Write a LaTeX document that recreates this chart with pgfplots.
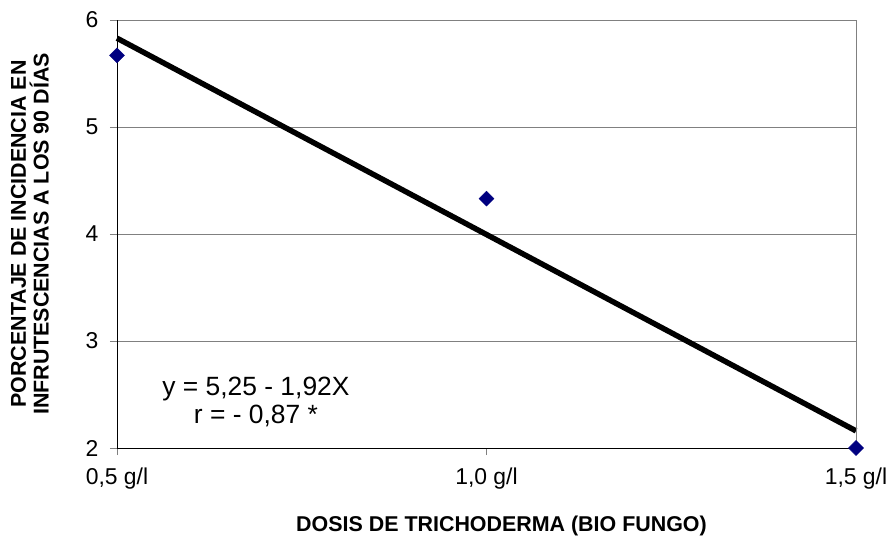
\documentclass[border=0pt]{standalone}
\usepackage{pgfplots}
\pgfplotsset{compat=1.18}
\usepackage{fontspec}
\setmainfont{Liberation Sans}
\definecolor{navyp}{RGB}{0,0,128}
\definecolor{gridg}{RGB}{128,128,128}
\begin{document}
\begin{tikzpicture}
\begin{axis}[
  scale only axis,
  width=739bp, height=428bp,
  xmin=0.5, xmax=1.5, ymin=2, ymax=6,
  axis x line*=bottom, axis y line*=left,
  axis line style={-, black, line width=1pt},
  xtick={0.5,1.0,1.5},
  xticklabels={{0,5 g/l},{1,0 g/l},{1,5 g/l}},
  ytick={2,3,4,5,6},
  tick style={gridg, line width=0.8pt},
  tick align=outside,
  major tick length=7bp,
  ymajorgrids,
  grid style={gridg, line width=0.8pt},
  /pgf/number format/assume math mode=true,
  ticklabel style={font=\fontsize{23}{27}\selectfont},
  xticklabel style={yshift=-9bp},
  yticklabel style={xshift=-8bp},
  xlabel={\textbf{DOSIS DE TRICHODERMA (BIO FUNGO)}},
  xlabel style={font=\fontsize{21.5}{25}\selectfont, yshift=-20bp, xshift=15bp},
  ylabel={\textbf{PORCENTAJE DE INCIDENCIA EN}\\\textbf{INFRUTESCENCIAS A LOS 90 DÍAS}},
  ylabel style={font=\fontsize{21.5}{23}\selectfont, align=center, yshift=30bp},
  clip=false,
]
\addplot[black, line width=5.5pt, no marks] coordinates {(0.5,5.83) (1.5,2.16)};
\addplot[only marks, mark=square*, mark size=5.3bp, color=navyp, mark options={fill=navyp, rotate=45}] coordinates {(0.5,5.67) (1.0,4.33) (1.5,2.0)};
\draw[gridg, line width=0.8pt] (rel axis cs:1,0) -- (rel axis cs:1,1);
\node[font=\fontsize{26.5}{28}\selectfont, align=center] at (axis cs:0.688,2.43) {y = 5,25 - 1,92X\\r = - 0,87 *};
\end{axis}
\path ([xshift=-117bp,yshift=-92bp]current axis.south west) rectangle ([xshift=37bp,yshift=20bp]current axis.north east);
\end{tikzpicture}
\end{document}
